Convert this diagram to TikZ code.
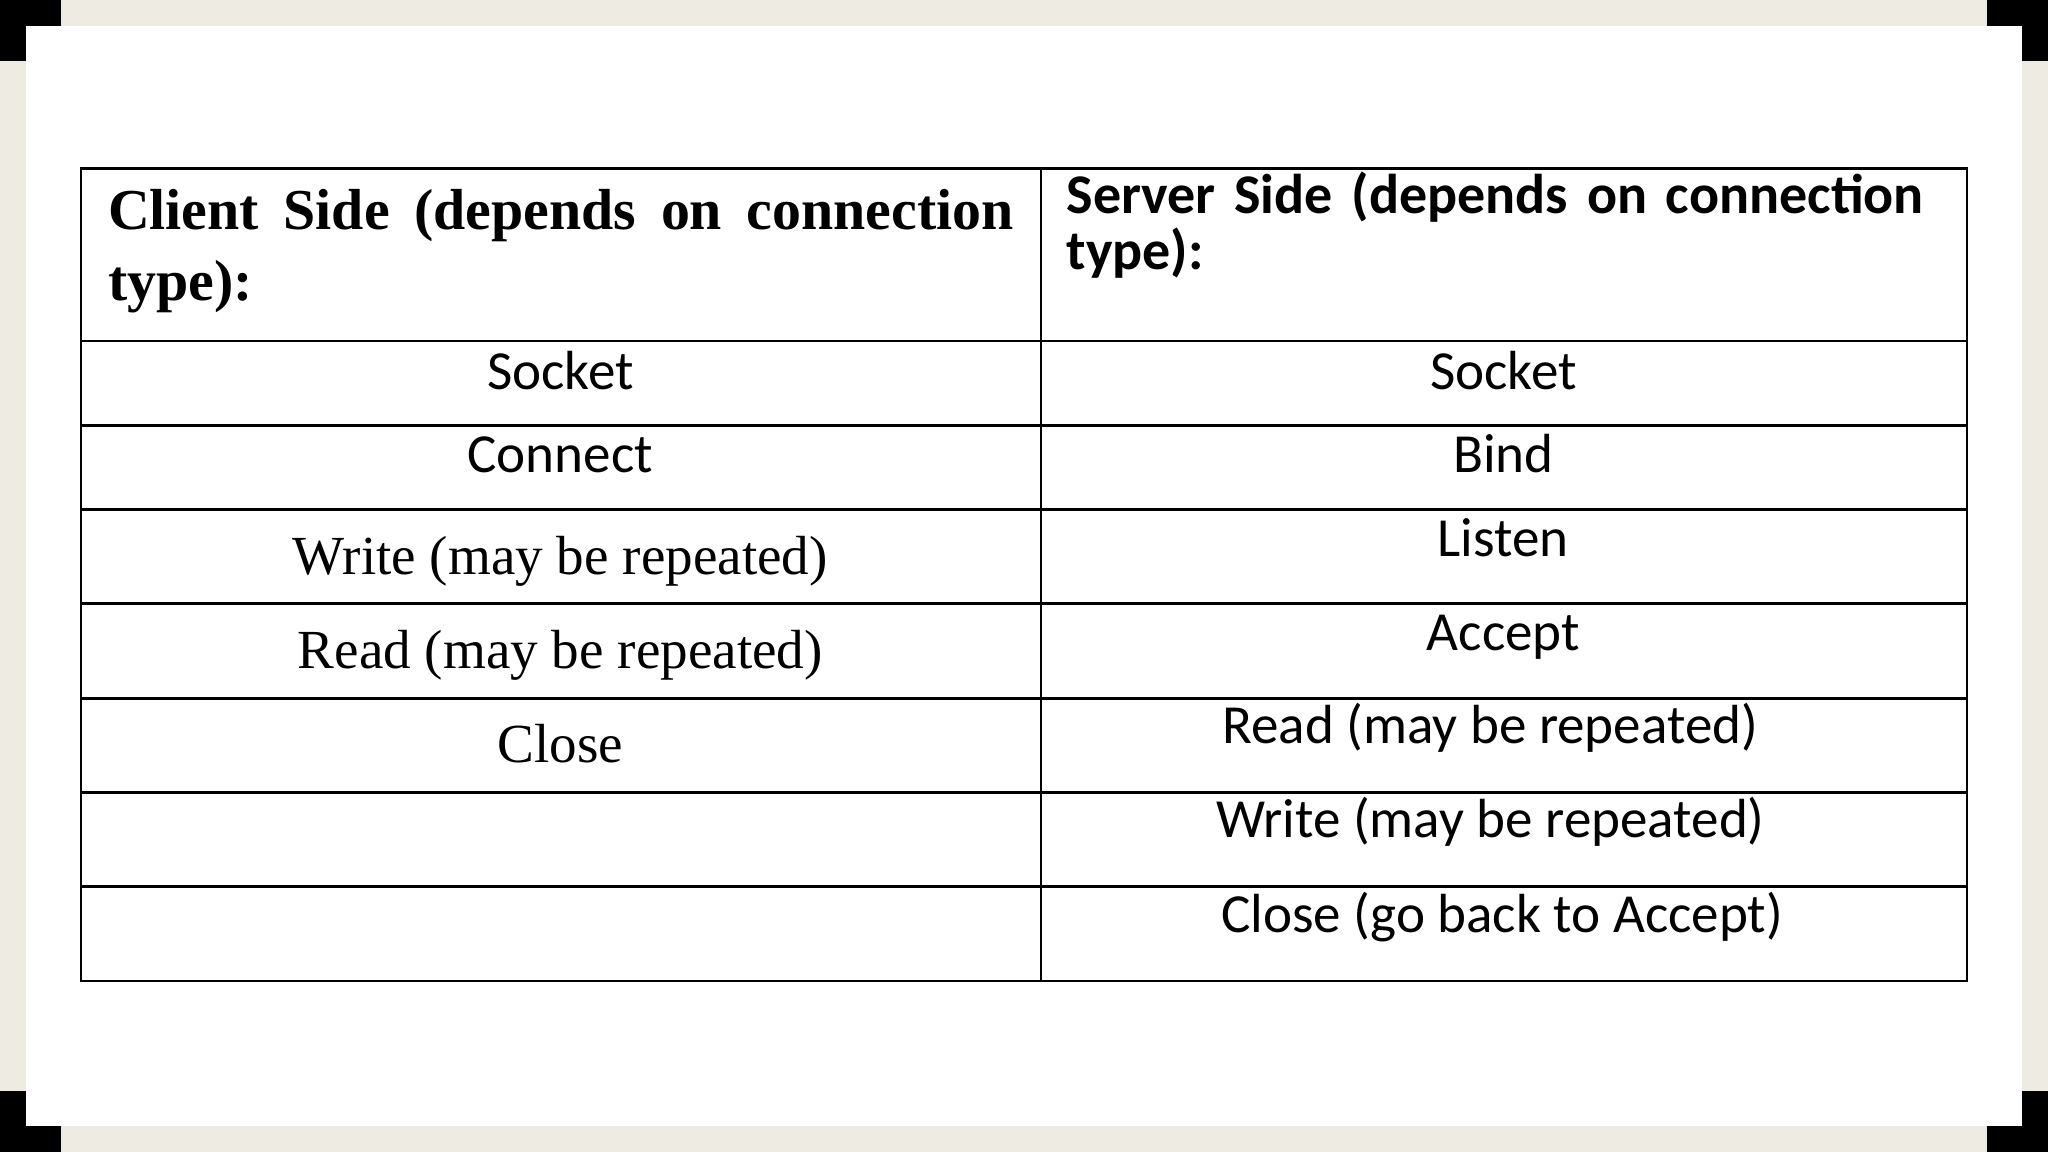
\documentclass[tikz,border=0pt]{standalone}
\usepackage{fontspec}
\setmainfont{Carlito}
\newfontfamily\timesfont{Liberation Serif}
\usetikzlibrary{positioning}
\definecolor{cream}{HTML}{EEEBE3}
\tikzset{cell/.style={anchor=base, inner sep=0pt, font=\fontsize{12}{15}\selectfont},
         tcell/.style={cell, font=\timesfont\fontsize{12}{15}\selectfont},
         grid/.style={draw=black, line width=0.6pt}}
\begin{document}
\begin{tikzpicture}[x=0.01cm, y=-0.01cm]
  \useasboundingbox (0,0) rectangle (1568,882);
  % background and page
  \fill[cream] (0,0) rectangle (1568,882);
  \fill[white] (20,20) rectangle (1548,862);
  \foreach \cx/\cy/\sx/\sy in {0/0/1/1, 1568/0/-1/1, 0/882/1/-1, 1568/882/-1/-1}{
    \fill[black] (\cx,\cy) rectangle ++(47*\sx,20*\sy);
    \fill[black] (\cx,\cy) rectangle ++(20*\sx,47*\sy);
  }
  % table grid
  \draw[grid] (62,129) rectangle (1506,751);
  \draw[grid] (797,129) -- (797,751);
  \foreach \yy in {261,326,390,462,535,607,679}
    \draw[grid] (62,\yy) -- (1506,\yy);
  % headers
  \node[anchor=north west, inner sep=0pt, text width=6.93cm, align=justify,
        font=\timesfont\bfseries\fontsize{12.6}{15.6}\selectfont] (hclient) at (82,144)
        {Client Side (depends on connection type):};
  \node[anchor=north west, inner sep=0pt, text width=6.6cm, align=left,
        font=\bfseries\fontsize{12.2}{12.2}\selectfont] (hserver) at (816,131)
        {\hyphenpenalty=10000 Server Side (depends on connection\\type):};
  % client column
  \node[cell] (csocket) at (429,298) {Socket};
  \node[cell] (cconnect) at (429,362) {Connect};
  \node[tcell] (cwrite) at (429,440) {Write (may be repeated)};
  \node[tcell] (cread) at (429,512) {Read (may be repeated)};
  \node[tcell] (cclose) at (429,584) {Close};
  % server column
  \node[cell] (ssocket) at (1151,298) {Socket};
  \node[cell] (sbind) at (1151,362) {Bind};
  \node[cell] (slisten) at (1151,426) {Listen};
  \node[cell] (saccept) at (1151,498) {Accept};
  \node[cell] (sread) at (1141,569) {Read (may be repeated)};
  \node[cell] (swrite) at (1141,641) {Write (may be repeated)};
  \node[cell] (sclose) at (1150,714) {Close (go back to Accept)};
\end{tikzpicture}
\end{document}
